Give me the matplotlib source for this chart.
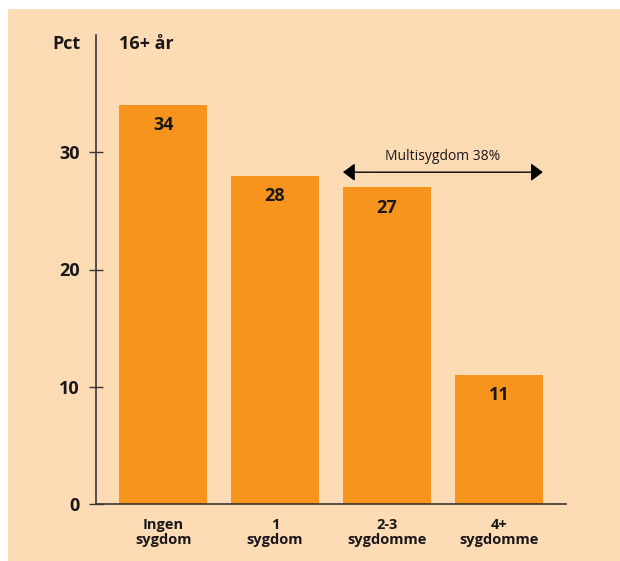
import matplotlib.pyplot as plt
from matplotlib.patches import Rectangle

plt.rcParams['font.family'] = ['Open Sans', 'DejaVu Sans']

# Data
categories = ['Ingen\nsygdom', '1\nsygdom', '2-3\nsygdomme', '4+\nsygdomme']
values = [34, 28, 27, 11]
yticks = [0, 10, 20, 30]
group_label = 'Multisygdom 38%'

bg_color = '#FDDBB5'
bar_color = '#F7941D'
ink = '#1A1718'

fig = plt.figure(figsize=(6.2, 5.61), dpi=100)
fig.patch.set_facecolor('white')

# Peach panel behind the chart
fig.patches.append(Rectangle((8 / 620, 0), 612 / 620, 552 / 561,
                             transform=fig.transFigure, facecolor=bg_color,
                             edgecolor='none', zorder=-10))

ax = fig.add_axes([96 / 620, 57 / 561, 470 / 620, 469 / 561])
ax.set_facecolor('none')
ax.set_zorder(1)

x = range(len(values))
bars = ax.bar(x, values, width=0.786, color=bar_color, zorder=2)

for xi, v in zip(x, values):
    ax.annotate(str(v), xy=(xi, v), xytext=(0, -14.5), textcoords='offset points',
                ha='center', va='center', fontsize=13, fontweight='bold', color=ink)

ax.set_xlim(-0.6, 3.6)
ax.set_ylim(0, 40)
ax.set_yticks(yticks)
ax.set_yticklabels([str(t) for t in yticks], fontsize=13, fontweight='bold', color=ink)
ax.set_xticks(list(x))
ax.set_xticklabels(categories, fontsize=10.5, fontweight='bold', color=ink, linespacing=1.12)
ax.tick_params(axis='x', length=0, pad=10)
ax.tick_params(axis='y', direction='inout', length=10, width=1, color='#3A3536', pad=6.5)

for side in ['top', 'right']:
    ax.spines[side].set_visible(False)
for side in ['left', 'bottom']:
    ax.spines[side].set_color('#3A3536')
    ax.spines[side].set_linewidth(1.2)

# Headers
fig.text(80 / 620, 1 - 44 / 561, 'Pct', ha='right', va='center',
         fontsize=13, fontweight='bold', color=ink)
fig.text(119 / 620, 1 - 44 / 561, '16+ år', ha='left', va='center',
         fontsize=13, fontweight='bold', color=ink)

# Multisygdom span arrow over the last two groups
left = 2 - 0.393
right = 3 + 0.393
ax.annotate('', xy=(left, 28.3), xytext=(right, 28.3),
            arrowprops=dict(arrowstyle='<|-|>,head_length=0.4,head_width=0.3',
                            color='black', lw=1.0, mutation_scale=18,
                            shrinkA=0, shrinkB=0))
ax.text((left + right) / 2, 29.6, group_label, ha='center', va='center',
        fontsize=10, color=ink)

fig.savefig('out.png', dpi=100, facecolor=fig.get_facecolor())
